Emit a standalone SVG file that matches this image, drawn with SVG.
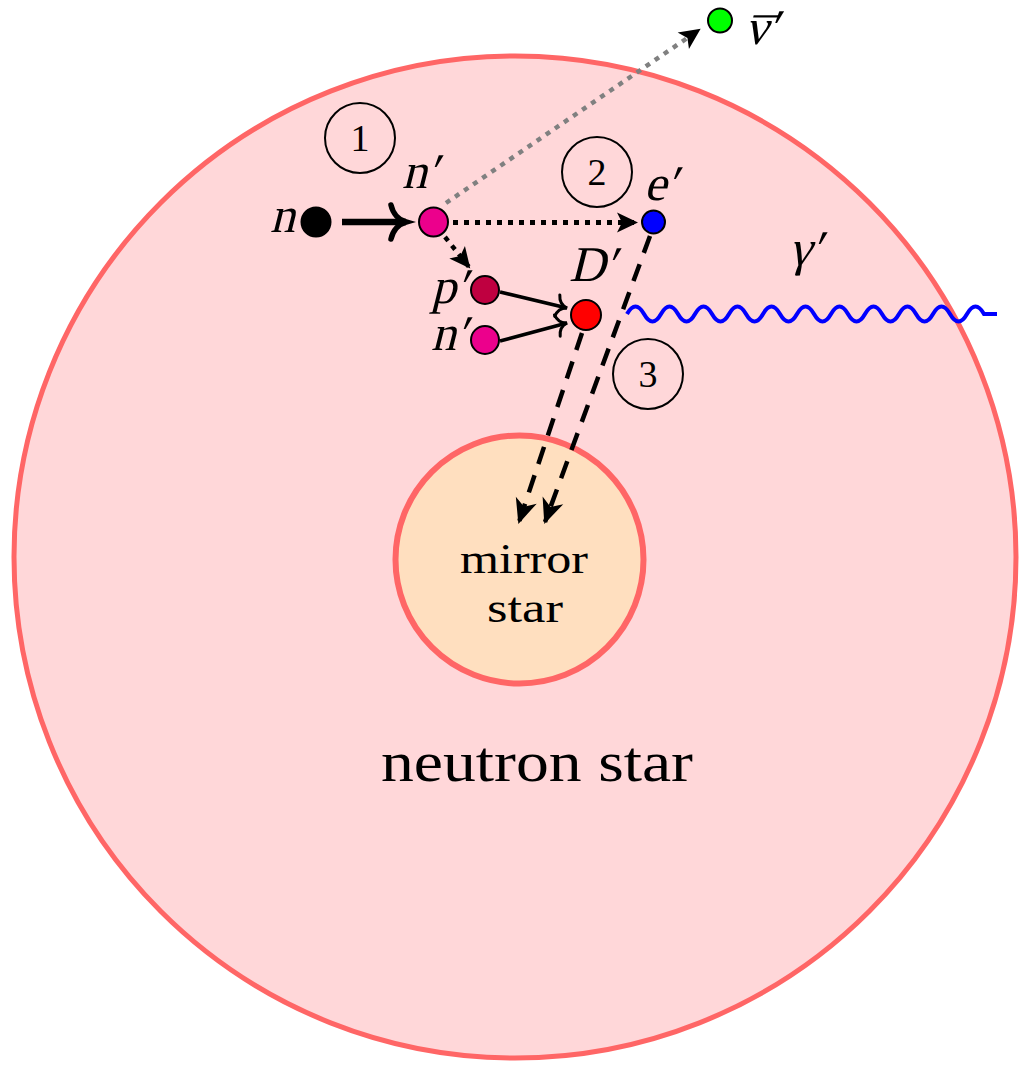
<svg xmlns="http://www.w3.org/2000/svg" width="1019" height="1067" viewBox="0 0 1019 1067">
<defs>
<style>
.star{stroke:#FF6666;}
.node{stroke:#000;stroke-width:2;}
.num{fill:none;stroke:#000;stroke-width:2;}
.numt{font-family:"Liberation Serif",serif;font-size:38px;text-anchor:middle;fill:#000;}
.m{font-family:"Liberation Serif",serif;font-size:50px;fill:#000;}
.rm{font-family:"Liberation Serif",serif;fill:#000;}
.dash{fill:none;stroke:#000;stroke-width:4.5;stroke-dasharray:18 12;}
.dot{fill:none;stroke:#000;stroke-width:5;stroke-dasharray:5 6;}
.solid{fill:none;stroke:#000;}
</style>
<marker id="stealth" markerUnits="userSpaceOnUse" orient="auto" refX="0" refY="0" markerWidth="30" markerHeight="30" overflow="visible">
<path d="M2,0 L-19,-10 L-14,0 L-19,10 Z" fill="#000"/>
</marker>
<marker id="stealthL" markerUnits="userSpaceOnUse" orient="auto" refX="0" refY="0" markerWidth="30" markerHeight="30" overflow="visible">
<path d="M2,0 L-23,-11 L-16,0 L-23,11 Z" fill="#000"/>
</marker>
<marker id="toThick" markerUnits="userSpaceOnUse" orient="auto" refX="0" refY="0" markerWidth="30" markerHeight="40" overflow="visible">
<path d="M-15,-17 C-13,-8 -7,-2 0,0 C-7,2 -13,8 -15,17" fill="none" stroke="#000" stroke-width="5.5" stroke-linecap="round"/>
</marker>
<marker id="toThin" markerUnits="userSpaceOnUse" orient="auto" refX="0" refY="0" markerWidth="30" markerHeight="30" overflow="visible">
<path d="M-10,-11 C-9,-5 -5,-1 0,0 C-5,1 -9,5 -10,11" fill="none" stroke="#000" stroke-width="3" stroke-linecap="round"/>
</marker>
</defs>

<g id="neutron-star">
<circle cx="515" cy="557" r="501" fill="#FFD7D9" class="star" stroke-width="5"/>
<text class="rm" x="537" y="781" font-size="56" text-anchor="middle" textLength="312" lengthAdjust="spacingAndGlyphs">neutron star</text>
</g>

<g id="mirror-star">
<circle cx="519.5" cy="559.5" r="124" fill="#FFDFBF" class="star" stroke-width="6"/>
<text class="rm" x="524" y="573" font-size="42" text-anchor="middle" textLength="128" lengthAdjust="spacingAndGlyphs">mirror</text>
<text class="rm" x="525" y="622" font-size="42" text-anchor="middle" textLength="76" lengthAdjust="spacingAndGlyphs">star</text>
</g>

<g id="connectors">
<path class="dash" d="M582,333 L519,522" marker-end="url(#stealthL)"/>
<path class="dash" d="M650,236 L545,522" marker-end="url(#stealthL)"/>
<path fill="none" stroke="#0000FF" stroke-width="4" d="M627,314 c5.67,-10 11.330,-10 17,0 c5.67,10 11.33,10 17,0 c5.67,-10 11.33,-10 17,0 c5.67,10 11.33,10 17,0 c5.67,-10 11.33,-10 17,0 c5.67,10 11.33,10 17,0 c5.67,-10 11.33,-10 17,0 c5.67,10 11.33,10 17,0 c5.67,-10 11.33,-10 17,0 c5.67,10 11.33,10 17,0 c5.67,-10 11.33,-10 17,0 c5.67,10 11.33,10 17,0 c5.67,-10 11.33,-10 17,0 c5.67,10 11.33,10 17,0 c5.67,-10 11.33,-10 17,0 c5.67,10 11.33,10 17,0 c5.67,-10 11.33,-10 17,0 c5.67,10 11.33,10 17,0 c5.67,-10 11.33,-10 17,0 c5.67,10 11.33,10 17,0 c5.67,-10 11.33,-10 17,0 L997,314"/>
<path fill="none" stroke="#808080" stroke-width="4.5" stroke-dasharray="5 6" d="M446,203 L699,30" marker-end="url(#stealth)"/>
<path class="dot" d="M453,222.5 L636,222.5" marker-end="url(#stealth)"/>
<path fill="none" stroke="#000" stroke-width="4.5" stroke-dasharray="5 6" d="M445,237 L469,267" marker-end="url(#stealth)"/>
<path class="solid" stroke-width="6.5" d="M342,222 L406,222" marker-end="url(#toThick)"/>
<path class="solid" stroke-width="3.5" d="M500,292 L567,308" marker-end="url(#toThin)"/>
<path class="solid" stroke-width="3.5" d="M500,341 L567,323" marker-end="url(#toThin)"/>
</g>

<g id="n">
<circle cx="316" cy="222" r="14.5" fill="#000" class="node"/>
<g transform="translate(270,232) skewX(-14)"><text class="m" x="0" y="0">n</text></g>
</g>
<g id="n-prime">
<circle cx="433.5" cy="222" r="14.5" fill="#EC008C" class="node"/>
<g transform="translate(402,188) skewX(-14)"><text class="m" x="0" y="0">n′</text></g>
</g>
<g id="e-prime">
<circle cx="653.5" cy="222" r="11.5" fill="#0000FF" class="node"/>
<g transform="translate(644,200) skewX(-14)"><text class="m" x="0" y="0">e′</text></g>
</g>
<g id="nubar-prime">
<circle cx="720" cy="20.5" r="12" fill="#00FF00" class="node"/>
<g transform="translate(745,44) skewX(-14)"><text class="m" x="0" y="0">ν′</text><text class="m" x="2" y="9">¯</text></g>
</g>
<g id="p-prime">
<circle cx="485" cy="290" r="14" fill="#BF0040" class="node"/>
<g transform="translate(431,303) skewX(-14)"><text class="m" x="0" y="0">p′</text></g>
</g>
<g id="n-prime-2">
<circle cx="485" cy="340" r="14" fill="#EC008C" class="node"/>
<g transform="translate(431,350) skewX(-14)"><text class="m" x="0" y="0">n′</text></g>
</g>
<g id="D-prime">
<circle cx="586" cy="315" r="15" fill="#FF0000" class="node"/>
<g transform="translate(569,281) skewX(-14)"><text class="m" x="0" y="0" font-size="39">D′</text></g>
</g>
<g id="gamma-prime">
<g transform="translate(789,265) skewX(-14)"><text class="m" x="0" y="0">γ′</text></g>
</g>

<g id="step-1">
<circle cx="360" cy="138" r="35" class="num"/>
<text class="numt" x="360" y="151">1</text>
</g>
<g id="step-2">
<circle cx="597" cy="172" r="35" class="num"/>
<text class="numt" x="597" y="185">2</text>
</g>
<g id="step-3">
<circle cx="648" cy="374" r="35" class="num"/>
<text class="numt" x="648" y="387">3</text>
</g>
</svg>
